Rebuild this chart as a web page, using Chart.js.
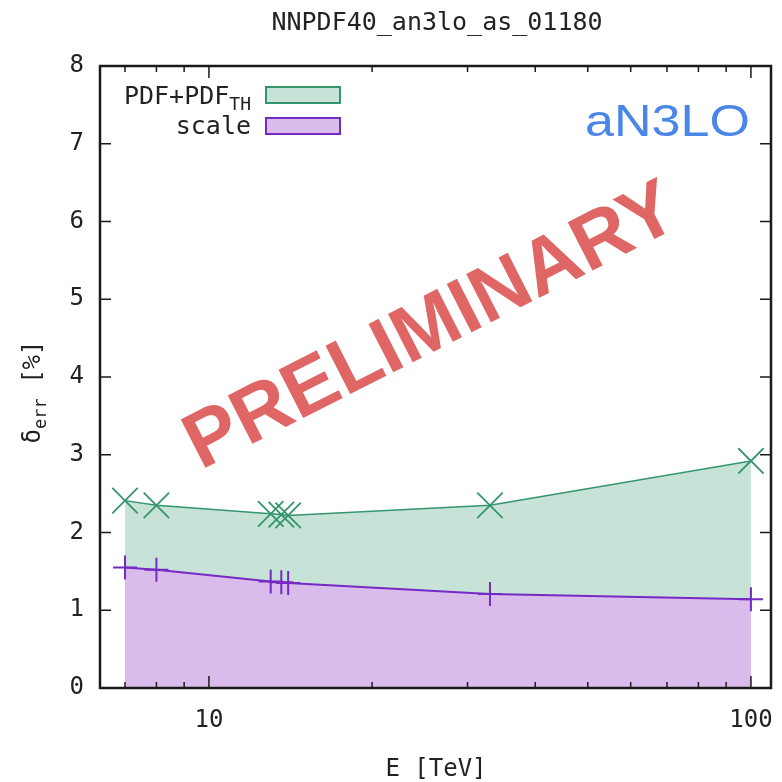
<!DOCTYPE html>
<html>
<head>
<meta charset="utf-8">
<title>NNPDF40_an3lo_as_01180</title>
<script src="https://cdn.jsdelivr.net/npm/chart.js@4.4.0/dist/chart.umd.min.js"></script>
<style>
  html, body { margin: 0; padding: 0; background: #fff; }
  #wrap { width: 782px; height: 782px; position: relative; }
</style>
</head>
<body>
<div id="wrap"><canvas id="err-chart"></canvas></div>
<script>
// collider energy (TeV)
const energies = [7, 8, 13, 13.6, 14, 33, 100];
// relative uncertainty (%)
const pdfErr = [2.41, 2.35, 2.24, 2.23, 2.22, 2.35, 2.92];
const scaleErr = [1.55, 1.52, 1.37, 1.36, 1.35, 1.21, 1.14];

const xTicks = [10, 100];
const xMinorTicks = [7, 8, 9, 20, 30, 40, 50, 60, 70, 80, 90];
const yTicks = [0, 1, 2, 3, 4, 5, 6, 7, 8];

const seriesNames = [['PDF+PDF', 'TH'], ['scale', '']];
const plotTitle = 'NNPDF40_an3lo_as_01180';
const xTitle = 'E [TeV]';
const yTitle = ['δ', 'err', ' [%]'];
const orderTag = 'aN3LO';
const stamp = 'PRELIMINARY';

const MONO = '"DejaVu Sans Mono", monospace';
const SANS = '"Liberation Sans", Arial, sans-serif';

const green = { line: 'rgb(52,150,108)', fill: 'rgb(199,227,215)' };
const purple = { line: 'rgb(118,42,196)', fill: 'rgb(217,187,236)' };

const toPoints = (ys) => energies.map((e, i) => ({ x: e, y: ys[i] }));

// border box and inward gnuplot-style tick marks
const frame = {
  id: 'frame',
  afterDatasetsDraw(chart) {
    const { ctx, chartArea: a, scales } = chart;
    ctx.save();
    ctx.strokeStyle = '#1a1a1a';
    ctx.lineWidth = 1.5;
    ctx.beginPath();
    yTicks.forEach(v => {
      const y = scales.y.getPixelForValue(v);
      ctx.moveTo(a.left, y); ctx.lineTo(a.left + 11, y);
      ctx.moveTo(a.right, y); ctx.lineTo(a.right - 11, y);
    });
    xTicks.forEach(v => {
      const x = scales.x.getPixelForValue(v);
      ctx.moveTo(x, a.bottom); ctx.lineTo(x, a.bottom - 12);
      ctx.moveTo(x, a.top); ctx.lineTo(x, a.top + 12);
    });
    xMinorTicks.forEach(v => {
      const x = scales.x.getPixelForValue(v);
      ctx.moveTo(x, a.bottom); ctx.lineTo(x, a.bottom - 6);
      ctx.moveTo(x, a.top); ctx.lineTo(x, a.top + 6);
    });
    ctx.stroke();
    ctx.lineWidth = 2.5;
    ctx.strokeRect(a.left, a.top, a.right - a.left, a.bottom - a.top);
    ctx.restore();
  }
};

function textWithSub(ctx, parts, x, y, size, subSize, subDrop) {
  // parts: [main, sub, tail]; drawn left-aligned from x on baseline y
  ctx.font = size + 'px ' + MONO;
  ctx.fillText(parts[0], x, y);
  x += ctx.measureText(parts[0]).width;
  if (parts[1]) {
    ctx.font = subSize + 'px ' + MONO;
    ctx.fillText(parts[1], x, y + subDrop);
    x += ctx.measureText(parts[1]).width;
  }
  if (parts[2]) {
    ctx.font = size + 'px ' + MONO;
    ctx.fillText(parts[2], x, y);
    x += ctx.measureText(parts[2]).width;
  }
  return x;
}

function partsWidth(ctx, parts, size, subSize) {
  let w = 0;
  ctx.font = size + 'px ' + MONO;
  w += ctx.measureText(parts[0]).width;
  if (parts[2]) w += ctx.measureText(parts[2]).width;
  ctx.font = subSize + 'px ' + MONO;
  if (parts[1]) w += ctx.measureText(parts[1]).width;
  return w;
}

const labels = {
  id: 'labels',
  afterDraw(chart) {
    const { ctx } = chart;
    ctx.save();
    ctx.fillStyle = '#222';
    ctx.textBaseline = 'alphabetic';

    // title
    ctx.font = '25px ' + MONO;
    ctx.textAlign = 'center';
    ctx.fillText(plotTitle, 437, 30);

    // x title
    ctx.font = '24px ' + MONO;
    ctx.fillText(xTitle, 436, 776);

    // y title, rotated
    ctx.textAlign = 'left';
    ctx.save();
    ctx.translate(40, 392);
    ctx.rotate(-Math.PI / 2);
    const yw = partsWidth(ctx, yTitle, 24, 17);
    textWithSub(ctx, yTitle, -yw / 2, 0, 24, 17, 6);
    ctx.restore();

    // legend: right-justified text, then a filled key box
    const keys = [green, purple];
    const baselines = [104, 134];
    const boxTops = [87, 118];
    seriesNames.forEach((parts, i) => {
      const w = partsWidth(ctx, parts, 25, 18);
      ctx.fillStyle = '#222';
      textWithSub(ctx, parts, 251 - w, baselines[i], 25, 18, 6);
      ctx.fillStyle = keys[i].fill;
      ctx.strokeStyle = keys[i].line;
      ctx.lineWidth = 2;
      ctx.fillRect(266, boxTops[i], 74, 16);
      ctx.strokeRect(266, boxTops[i], 74, 16);
    });

    // order tag
    ctx.fillStyle = 'rgb(74,134,232)';
    ctx.font = '45px ' + SANS;
    const tw = ctx.measureText(orderTag).width;
    ctx.save();
    ctx.translate(585, 136);
    ctx.scale(165 / tw, 1);
    ctx.fillText(orderTag, 0, 0);
    ctx.restore();

    // stamp across the plot
    ctx.fillStyle = 'rgb(224,102,102)';
    ctx.font = 'bold 79px ' + SANS;
    ctx.textAlign = 'center';
    ctx.textBaseline = 'middle';
    ctx.translate(432, 328);
    ctx.rotate(-27 * Math.PI / 180);
    ctx.fillText(stamp, 0, 0);
    ctx.restore();
  }
};

new Chart(document.getElementById('err-chart'), {
  type: 'line',
  data: {
    datasets: [{
      label: seriesNames[0].join(''),
      data: toPoints(pdfErr),
      borderColor: green.line,
      backgroundColor: green.fill,
      borderWidth: 1.5,
      fill: 'origin',
      tension: 0,
      pointStyle: 'crossRot',
      pointRadius: 18,
      pointBorderWidth: 1.8,
      pointBorderColor: green.line,
      order: 2
    }, {
      label: seriesNames[1].join(''),
      data: toPoints(scaleErr),
      borderColor: purple.line,
      backgroundColor: purple.fill,
      borderWidth: 2,
      fill: 'origin',
      tension: 0,
      pointStyle: 'cross',
      pointRadius: 12,
      pointBorderWidth: 2,
      pointBorderColor: purple.line,
      order: 1
    }]
  },
  options: {
    responsive: true,
    maintainAspectRatio: false,
    animation: false,
    layout: { autoPadding: false, padding: { top: 66, right: 11, left: 0, bottom: 0 } },
    plugins: { legend: { display: false }, tooltip: { enabled: false }, title: { display: false } },
    scales: {
      x: {
        type: 'logarithmic',
        min: 6.295,
        max: 108.9,
        grid: { display: false, drawTicks: false },
        border: { display: false },
        afterBuildTicks: (s) => { s.ticks = xTicks.map(v => ({ value: v })); },
        afterFit: (s) => { s.height = 94; s.paddingLeft = 0; s.paddingRight = 0; },
        ticks: {
          autoSkip: false,
          maxRotation: 0,
          padding: 18,
          color: '#222',
          font: { family: MONO, size: 24 },
          callback: (v) => String(v)
        }
      },
      y: {
        min: 0,
        max: 8,
        grid: { display: false, drawTicks: false },
        border: { display: false },
        afterBuildTicks: (s) => { s.ticks = yTicks.map(v => ({ value: v })); },
        afterFit: (s) => { s.width = 100; s.paddingTop = 0; s.paddingBottom = 0; },
        ticks: {
          padding: 16,
          color: '#222',
          font: { family: MONO, size: 24 },
          callback: (v) => String(v)
        }
      }
    }
  },
  plugins: [frame, labels]
});
</script>
</body>
</html>
